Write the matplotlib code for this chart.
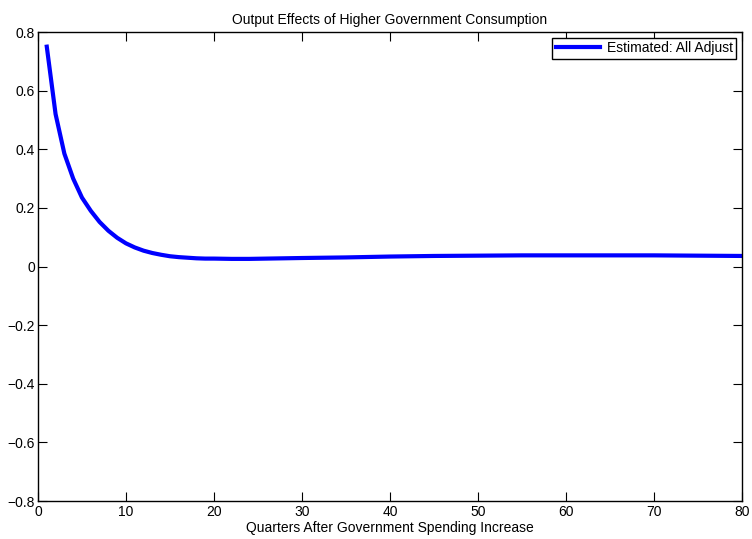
import numpy as np
import matplotlib
matplotlib.use("Agg")
from matplotlib import pyplot as plt

plt.rcParams['font.family'] = ['Liberation Sans', 'DejaVu Sans']

# quarters after the spending increase and the estimated output response
quarters = [1, 2, 3, 4, 5, 6, 7, 8, 9, 10, 11, 12, 13, 14, 15, 16, 17, 18, 19, 20,
            22, 24, 26, 28, 30, 35, 40, 45, 50, 55, 60, 65, 70, 75, 80]
output = [0.75, 0.52, 0.385, 0.30, 0.235, 0.19, 0.152, 0.122, 0.098, 0.079,
          0.065, 0.054, 0.046, 0.040, 0.035, 0.032, 0.030, 0.028, 0.027, 0.027,
          0.026, 0.026, 0.027, 0.028, 0.029, 0.031, 0.034, 0.036, 0.037, 0.038,
          0.038, 0.038, 0.038, 0.037, 0.036]

xticks = [0, 10, 20, 30, 40, 50, 60, 70, 80]
yticks = [-0.8, -0.6, -0.4, -0.2, 0, 0.2, 0.4, 0.6, 0.8]
ytick_labels = ['\u22120.8', '\u22120.6', '\u22120.4', '\u22120.2', '0', '0.2', '0.4', '0.6', '0.8']

fig = plt.figure(figsize=(7.52, 5.39), dpi=100)
ax = fig.add_axes([0.0505, 0.0705, 0.9362, 0.8701])

ax.plot(quarters, output, color='#0000ff', linewidth=3, label='Estimated: All Adjust')

ax.set_xlim(0, 80)
ax.set_ylim(-0.8, 0.8)
ax.set_xticks(xticks)
ax.set_yticks(yticks)
ax.set_yticklabels(ytick_labels)
ax.tick_params(direction='in', top=True, right=True, length=6.5, width=0.8,
               labelsize=10, pad=2)
ax.tick_params(axis='x', pad=3)
for s in ax.spines.values():
    s.set_linewidth(1.0)

ax.set_title('Output Effects of Higher Government Consumption', fontsize=10, pad=6)
ax.set_xlabel('Quarters After Government Spending Increase', fontsize=10, labelpad=1)

leg = ax.legend(loc='upper right', fontsize=10, fancybox=False, framealpha=1,
                edgecolor='black', borderaxespad=0.4, handlelength=3.2,
                borderpad=0.25, handletextpad=0.5)
leg.get_frame().set_linewidth(1.0)

plt.savefig('out.png', dpi=100)
